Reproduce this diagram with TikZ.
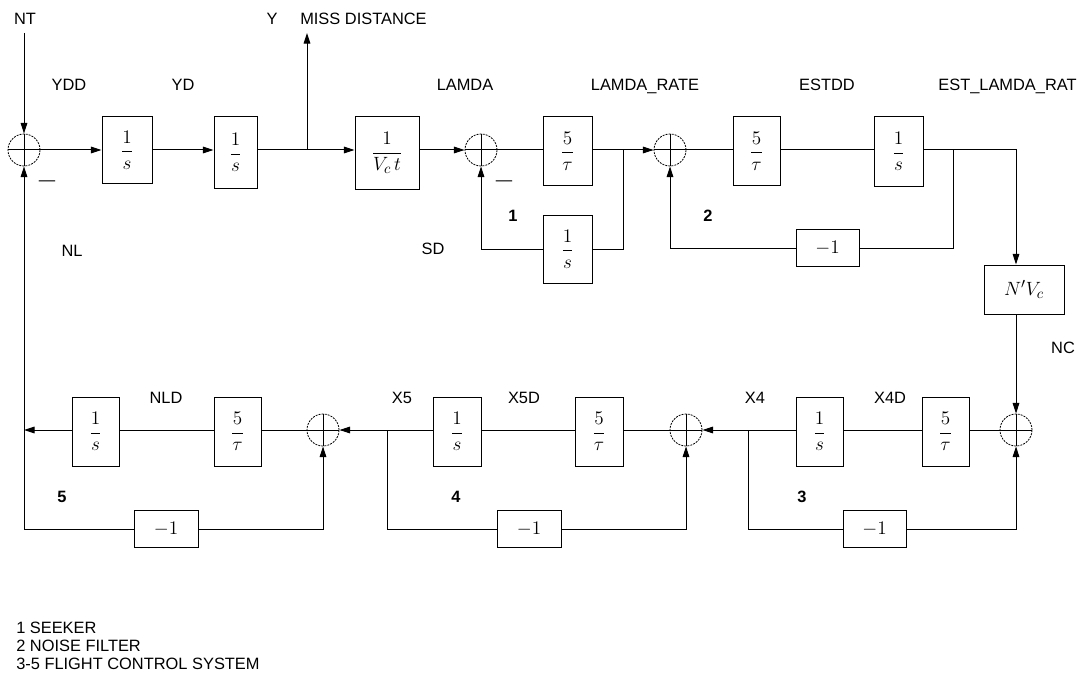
\documentclass[tikz,border=0pt]{standalone}
\usepackage{fontspec}
\setmainfont{Liberation Sans}
\usetikzlibrary{arrows.meta}
\begin{document}
\begin{tikzpicture}[x=0.75pt,y=-0.75pt,
  blk/.style={draw, line width=0.75pt, inner sep=0pt, font=\fontsize{15}{17}\selectfont},
  sumj/.style={circle, minimum size=24pt, inner sep=0pt, draw, line width=0.6pt,
    dash pattern=on 1.5pt off 0.8pt,
    path picture={\draw[solid, line width=0.75pt]
      (path picture bounding box.north) -- (path picture bounding box.south)
      (path picture bounding box.west) -- (path picture bounding box.east);}},
  lbl/.style={inner sep=0pt, font=\fontsize{12.3}{14}\selectfont, text height=8.8pt, text depth=0pt},
  num/.style={lbl, font=\fontsize{12.3}{14}\selectfont\bfseries},
  arr/.style={-{Triangle[length=8pt,width=5pt]}},
  wire/.style={line width=0.75pt}
]
\fill[white] (0,0) rectangle (1080,681);
\useasboundingbox (0,0) rectangle (1080,681);

% summing junctions
\node[sumj] (S1) at (24,150) {};
\node[sumj] (S2) at (481,150) {};
\node[sumj] (S3) at (670,150) {};
\node[sumj] (S4) at (1016,430) {};
\node[sumj] (S5) at (686,430) {};
\node[sumj] (S6) at (323,430) {};

% top row blocks
\node[blk, minimum width=37.5pt, minimum height=49.5pt] (B1) at (127,150) {$\displaystyle\frac{1}{s}$};
\node[blk, minimum width=32.25pt, minimum height=54pt] (B2) at (235.5,152.5) {$\displaystyle\frac{1}{s}$};
\node[blk, minimum width=48pt, minimum height=54pt] (B3) at (387,153) {$\displaystyle\frac{1}{V_c\,t}$};
\node[blk, minimum width=36.75pt, minimum height=51pt] (B4) at (567.5,151) {$\displaystyle\frac{5}{\tau}$};
\node[blk, minimum width=36.75pt, minimum height=51pt] (B5) at (567.5,249) {$\displaystyle\frac{1}{s}$};
\node[blk, minimum width=35.25pt, minimum height=51pt] (B6) at (756.5,151) {$\displaystyle\frac{5}{\tau}$};
\node[blk, minimum width=36.75pt, minimum height=51.75pt] (B7) at (898.5,151.5) {$\displaystyle\frac{1}{s}$};
\node[blk, minimum width=47.25pt, minimum height=27.75pt] (B8) at (827.5,248) {$-1$};
\node[blk, minimum width=60pt, minimum height=36.75pt] (B9) at (1024,289.5) {$N'V_c$};

% bottom row blocks
\node[blk, minimum width=35.25pt, minimum height=51.75pt] (B10) at (945.5,431.5) {$\displaystyle\frac{5}{\tau}$};
\node[blk, minimum width=35.25pt, minimum height=51.75pt] (B11) at (819.5,431.5) {$\displaystyle\frac{1}{s}$};
\node[blk, minimum width=47.25pt, minimum height=27.75pt] (B12) at (874.5,529) {$-1$};
\node[blk, minimum width=36pt, minimum height=51.75pt] (B13) at (599,431.5) {$\displaystyle\frac{5}{\tau}$};
\node[blk, minimum width=36pt, minimum height=51.75pt] (B14) at (457,431.5) {$\displaystyle\frac{1}{s}$};
\node[blk, minimum width=48pt, minimum height=27.75pt] (B15) at (529,529) {$-1$};
\node[blk, minimum width=35.25pt, minimum height=51.75pt] (B16) at (237.5,431.5) {$\displaystyle\frac{5}{\tau}$};
\node[blk, minimum width=35.25pt, minimum height=51.75pt] (B17) at (95.5,431.5) {$\displaystyle\frac{1}{s}$};
\node[blk, minimum width=48pt, minimum height=27.75pt] (B18) at (166,529) {$-1$};

% coordinates
\coordinate (nt) at (24,33);
\coordinate (br1) at (307,150);
\coordinate (miss) at (307,33);
\coordinate (br2) at (623,150);
\coordinate (br3) at (953,150);
\coordinate (cnr1) at (1016,150);
\coordinate (br4) at (748,430);
\coordinate (br5) at (387,430);
\coordinate (nlj) at (24,430);
\coordinate (c5) at (24,529);

% top row wires
\draw[wire,arr] (nt) -- (S1.north);
\draw[wire,arr] (S1.east) -- (B1.west |- S1.east);
\draw[wire,arr] (B1.east |- S1.east) -- (B2.west |- S1.east);
\draw[wire,arr] (B2.east |- br1) -- (B3.west |- br1);
\draw[wire,arr] (br1) -- (miss);
\draw[wire,arr] (B3.east |- br1) -- (S2.west);
\draw[wire] (S2.east) -- (B4.west |- S2.east);
\draw[wire,arr] (B4.east |- br2) -- (S3.west);
\draw[wire] (br2) |- (B5.east);
\draw[wire,arr] (B5.west) -| (S2.south);
\draw[wire] (S3.east) -- (B6.west |- S3.east);
\draw[wire] (B6.east |- br3) -- (B7.west |- br3);
\draw[wire,arr] (B7.east |- br3) -- (cnr1) -- (cnr1 |- B9.north);
\draw[wire] (br3) |- (B8.east);
\draw[wire,arr] (B8.west) -| (S3.south);
\draw[wire,arr] (B9.south -| S4) -- (S4.north);

% bottom row wires
\draw[wire] (S4.west) -- (B10.east |- S4.west);
\draw[wire] (B10.west |- S4) -- (B11.east |- S4);
\draw[wire,arr] (B11.west |- S4) -- (S5.east);
\draw[wire] (br4) |- (B12.west);
\draw[wire,arr] (B12.east) -| (S4.south);
\draw[wire] (S5.west) -- (B13.east |- S5);
\draw[wire] (B13.west |- S5) -- (B14.east |- S5);
\draw[wire,arr] (B14.west |- S5) -- (S6.east);
\draw[wire] (br5) |- (B15.west);
\draw[wire,arr] (B15.east) -| (S5.south);
\draw[wire] (S6.west) -- (B16.east |- S6);
\draw[wire] (B16.west |- S6) -- (B17.east |- S6);
\draw[wire,arr] (B17.west |- S6) -- (nlj);
\draw[wire,arr] (c5) -- (S1.south);
\draw[wire] (c5) -- (B18.west);
\draw[wire,arr] (B18.east) -| (S6.south);

% labels
\node[lbl] (lNT) at (25,19) {NT};
\node[lbl] (lY) at (272,19) {Y};
\node[lbl, anchor=west] (lMD) at (300,19) {MISS DISTANCE};
\node[lbl] (lYDD) at (69,85) {YDD};
\node[lbl] (lYD) at (183,85) {YD};
\node[lbl] (lLA) at (465,85) {LAMDA};
\node[lbl] (lLR) at (645,85) {LAMDA\_RATE};
\node[lbl] (lES) at (827,85) {ESTDD};
\node[lbl] (lEL) at (1007.5,85) {EST\_LAMDA\_RAT};
\node[lbl] (lNL) at (72,251) {NL};
\node[lbl] (lSD) at (433,249) {SD};
\node[num] (n1) at (513,216) {1};
\node[num] (n2) at (708,216) {2};
\node[lbl] (lNC) at (1063,348) {NC};
\node[lbl] (lX4) at (755,398) {X4};
\node[lbl] (lX4D) at (890,398) {X4D};
\node[lbl] (lX5) at (402,398) {X5};
\node[lbl] (lX5D) at (524,398) {X5D};
\node[lbl] (lNLD) at (166,398) {NLD};
\node[num] (n3) at (802,497) {3};
\node[num] (n4) at (456,497) {4};
\node[num] (n5) at (62,497) {5};
\node[inner sep=0pt, font=\fontsize{12.3}{14}\selectfont] (m1) at (47,183) {—};
\node[inner sep=0pt, font=\fontsize{12.3}{14}\selectfont] (m2) at (504,183) {—};

% legend
\node[lbl, anchor=west] (lg1) at (16,628) {1 SEEKER};
\node[lbl, anchor=west] (lg2) at (16,646) {2 NOISE FILTER};
\node[lbl, anchor=west] (lg3) at (16,664) {3-5 FLIGHT CONTROL SYSTEM};
\end{tikzpicture}
\end{document}
